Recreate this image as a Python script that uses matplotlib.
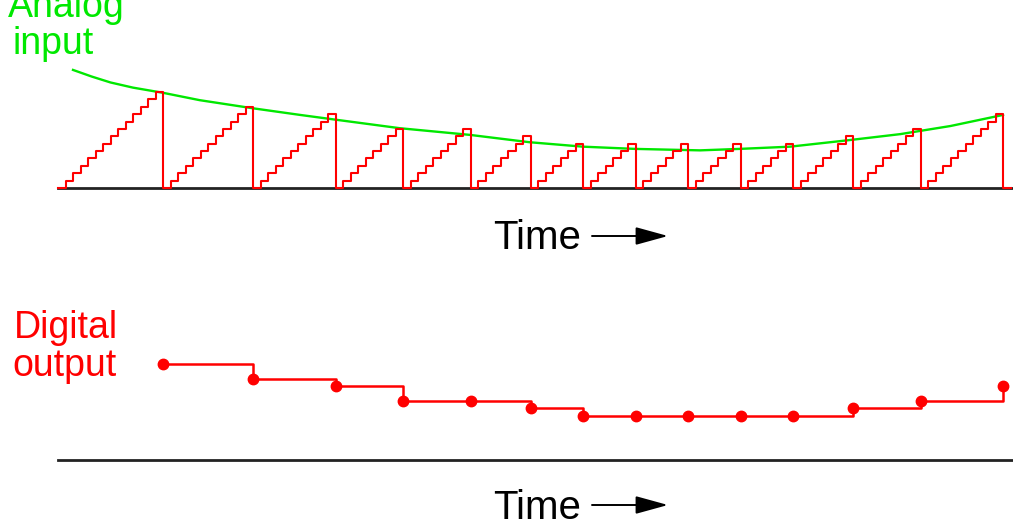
import matplotlib
matplotlib.use("Agg")
import matplotlib.pyplot as plt

plt.rcParams['font.family'] = ['Liberation Sans', 'DejaVu Sans']

# Counter value reached at the end of each conversion (clock counts)
COUNTS = [13, 11, 10, 8, 8, 7, 6, 6, 6, 6, 6, 7, 8, 10]

# Analog input: time (clock periods) and level (counts)
ANALOG_T = [2.0, 4.5, 7.0, 10.0, 14.0, 18.9, 26.0, 32.3, 36.7, 45.6, 54.9,
            62.9, 70.0, 76.9, 85.6, 90.9, 97.6, 105.6, 112.3, 119.0, 126.0]
ANALOG_V = [16.0, 15.1, 14.3, 13.6, 12.9, 11.9, 10.8, 9.9, 9.3, 8.1, 7.2,
            6.2, 5.6, 5.3, 5.1, 5.3, 5.6, 6.5, 7.3, 8.4, 9.9]

GREEN = '#00e800'
RED = '#ff0000'

# layout in pixels
W, H = 1013, 528
X0 = 58            # pixel of time zero
PX_T = 7.5         # pixels per clock period
PX_V = 7.38        # pixels per count
TOP_BASE = 188     # baseline rows from the top
BOT_BASE = 460


def ramp(counts):
    ts, vs = [], []
    start = 0
    drops = []
    for n in counts:
        for k in range(n + 1):
            ts.append(start + k)
            vs.append(k)
        start += n + 1
        drops.append(start)
    ts.append(start)
    vs.append(0)
    ts.append(start + 1)
    vs.append(0)
    return ts, vs, drops


def make_axes(fig, base):
    ax = fig.add_axes([0, 0, 1, 1])
    ax.set_xlim(-X0 / PX_T, (W - X0) / PX_T)
    ax.set_ylim(-(H - base) / PX_V, base / PX_V)
    ax.axis('off')
    ax.patch.set_alpha(0)
    return ax


def time_label(fig, y_base, y_arrow):
    fig.text(493 / W, 1 - y_base / H, "Time", fontsize=29,
             va='baseline', ha='left', color='black')
    fig.axes[0].annotate('', xy=(668, H - y_arrow), xytext=(592, H - y_arrow),
                         xycoords='figure pixels', textcoords='figure pixels',
                         arrowprops=dict(arrowstyle='-|>,head_length=0.8,head_width=0.22',
                                         mutation_scale=25, lw=1.4, color='black',
                                         shrinkA=0, shrinkB=0))


fig = plt.figure(figsize=(W / 100, H / 100), dpi=100)

ts, vs, drops = ramp(COUNTS)
xmax = (W - X0) / PX_T

top = make_axes(fig, TOP_BASE)
top.plot([0, xmax], [0, 0], color='#222222', lw=2.0, zorder=1)
top.plot(ANALOG_T, ANALOG_V, color=GREEN, lw=1.7, zorder=2)
top.step(ts, vs, where='post', color=RED, lw=1.5, zorder=3)

bot = make_axes(fig, BOT_BASE)
bot.plot([0, xmax], [0, 0], color='#222222', lw=2.0, zorder=1)
bot.step(drops, COUNTS, where='post', color=RED, lw=1.8, zorder=2)
bot.plot(drops, COUNTS, 'o', color=RED, markersize=7.5, zorder=3)

fig.text(8 / W, 1 - 17 / H, "Analog", fontsize=27, color=GREEN, va='baseline')
fig.text(12 / W, 1 - 54 / H, "input", fontsize=27, color=GREEN, va='baseline')
fig.text(14 / W, 1 - 338 / H, "Digital", fontsize=27, color=RED, va='baseline')
fig.text(12 / W, 1 - 376 / H, "output", fontsize=27, color=RED, va='baseline')

time_label(fig, 249, 236)
time_label(fig, 519, 505)

fig.savefig("out.png", dpi=100)
